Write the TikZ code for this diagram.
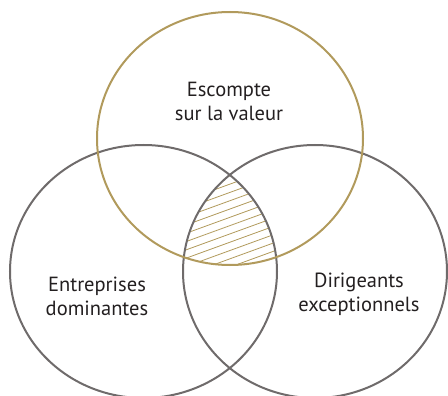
\documentclass[tikz,border=0pt]{standalone}
\usepackage{fontspec}
\setmainfont{PT Sans}
\definecolor{gold}{HTML}{B19A5C}
\definecolor{ring}{HTML}{6F6B6B}
\definecolor{ink}{HTML}{231F20}
\tikzset{
  circ/.style={line width=2pt},
  lbl/.style={text=ink, align=center, font=\fontsize{20.5}{24}\selectfont},
  hatch/.style={gold, line width=0.8pt}
}
\begin{document}
\begin{tikzpicture}[x=1pt,y=-1pt]
\useasboundingbox (0,0) rectangle (448,396);
% hatched middle part
\begin{scope}
\clip (230,138.5) ellipse [x radius=133, y radius=126.5];
\clip (143.5,271.5) ellipse [x radius=133.5, y radius=126.5];
\clip (315,271.5) ellipse [x radius=132, y radius=126.5];
\foreach \k in {0,...,16}
  \draw[hatch] (150,{180+8.3*\k}) -- (330,{180+8.3*\k-65.5});
\end{scope}
\draw[circ, ring] (143.5,271.5) ellipse [x radius=133.5, y radius=126.5];
\draw[circ, ring] (315,271.5) ellipse [x radius=132, y radius=126.5];
\draw[circ, gold] (230,138.5) ellipse [x radius=133, y radius=126.5];
\node[lbl] (escompte) at (229,101) {Escompte\\sur la valeur};
\node[lbl] (entreprises) at (97,296) {Entreprises\\dominantes};
\node[lbl] (dirigeants) at (359,294) {Dirigeants\\exceptionnels};
\end{tikzpicture}
\end{document}
